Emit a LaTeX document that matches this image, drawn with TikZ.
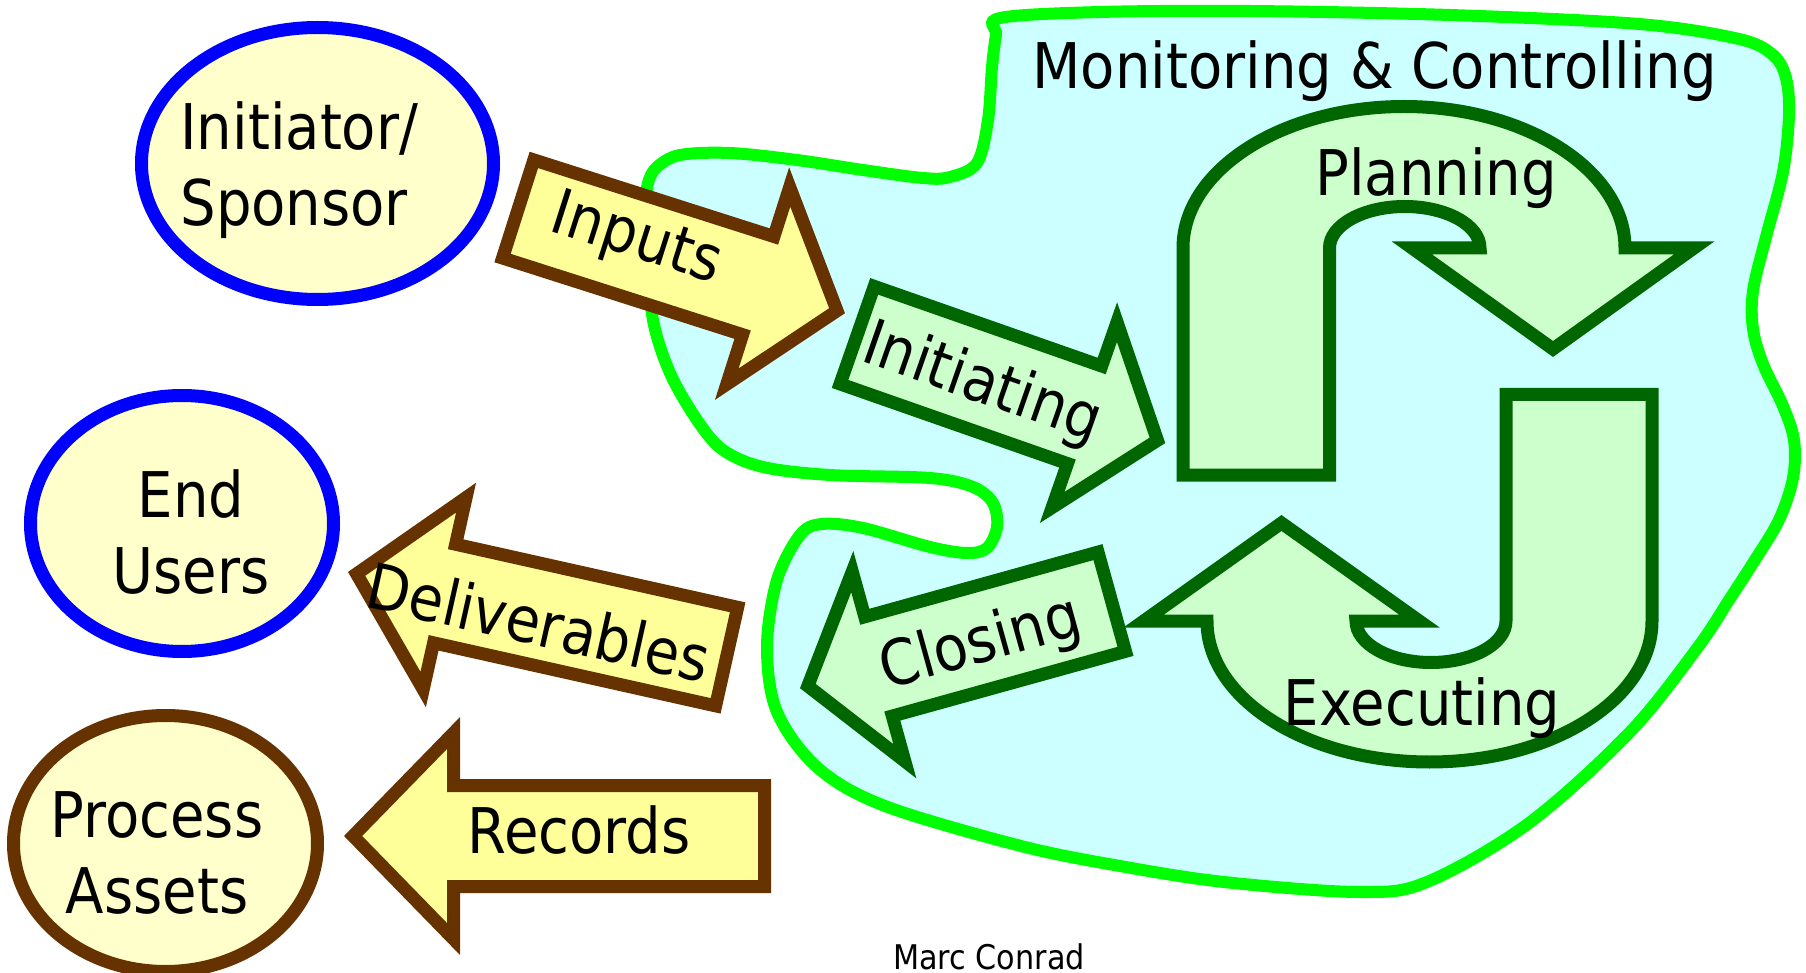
\documentclass[tikz,border=0pt]{standalone}
\usepackage{fontspec}
\setmainfont{DejaVu Sans}[FakeStretch=0.89]
\usetikzlibrary{shapes.geometric}
\definecolor{ellfill}{HTML}{FFFFCC}
\definecolor{arrfill}{HTML}{FFFF99}
\definecolor{brn}{HTML}{663300}
\definecolor{blu}{HTML}{0000FF}
\definecolor{grfill}{HTML}{CCFFCC}
\definecolor{grdark}{HTML}{006600}
\definecolor{grbright}{HTML}{00FF00}
\definecolor{cyanfill}{HTML}{CCFFFF}
% style, origin, rotation, tip, shaft half width, head base, head half width
\newcommand\blockarr[7]{\draw[#1, shift={#2}, rotate=#3] (6.5,-#5) -- (#6,-#5) -- (#6,-#7) -- (#4,0) -- (#6,#7) -- (#6,#5) -- (6.5,#5) -- cycle;}
\begin{document}
\begin{tikzpicture}[x=0.5pt,y=-0.5pt,
  lab/.style={font=\fontsize{31.5}{38}\selectfont, inner sep=0pt},
  party/.style={ellipse, draw=#1, fill=ellfill, line width=6.5pt, inner sep=0pt},
  brownarrow/.style={draw=brn, fill=arrfill, line width=6.5pt, line join=miter},
  greenarrow/.style={draw=grdark, fill=grfill, line width=6.5pt, line join=miter},
  cloudsty/.style={draw=grbright, fill=cyanfill, line width=6pt}]

\path[use as bounding box, fill=white] (0,0) rectangle (1806,973);

% Monitoring & Controlling region
\draw[cloudsty] plot[smooth cycle, tension=0.55] coordinates {
 (1000,18) (1100,12) (1250,11) (1450,15) (1639,24) (1739,39) (1773,55) (1786,78)
 (1789,115) (1783,172) (1766,237) (1753,291) (1753,329) (1763,364) (1783,406)
 (1794,440) (1793,478) (1779,520) (1753,563) (1729,600) (1698,647) (1630,732)
 (1529,823) (1427,882) (1359,892) (1224,882) (1120,866) (1021,846) (885,806)
 (818,768) (777,712) (767,647) (777,580) (800,535) (822,524) (863,528) (930,547)
 (967,553) (987,548) (997,527) (993,503) (973,487) (930,478) (830,475) (763,467)
 (723,450) (697,420) (670,373) (653,320) (649,260) (647,203) (648,183) (657,167)
 (680,155) (730,153) (797,160) (863,170) (923,178) (950,177) (977,163) (988,120)
 (992,67) (996,35)};

\node[lab, anchor=base] (title) at (1374.5,89) {Monitoring \& Controlling};

% process group arrows
\blockarr{greenarrow}{(851,333)}{-19.3}{324.7}{51.7}{247.5}{98.2}
\node[lab, rotate=-19.3] (initiating) at (982,385) {Initiating};

\draw[greenarrow] (1183,475) -- (1183,248)
  .. controls (1183,169.8) and (1282.7,106.5) .. (1404,106.5)
  .. controls (1525.3,106.5) and (1625,169.8) .. (1625,248)
  -- (1694,248) -- (1553,349) -- (1412,248) -- (1480,248)
  .. controls (1480,225.1) and (1446.3,206.5) .. (1404.75,206.5)
  .. controls (1363.2,206.5) and (1329.5,225.1) .. (1329.5,248)
  -- (1329.5,475) -- cycle;
\node[lab, anchor=base] (planning) at (1436,196) {Planning};

\draw[greenarrow] (1652,394.5) -- (1506,394.5) -- (1506,621)
  .. controls (1506,643.9) and (1472.4,662.5) .. (1431,662.5)
  .. controls (1389.6,662.5) and (1356,643.9) .. (1356,621)
  -- (1419.3,621) -- (1281.5,523) -- (1143.7,621) -- (1207,621)
  .. controls (1207,698.9) and (1306.6,762) .. (1429.5,762)
  .. controls (1552.4,762) and (1652,698.9) .. (1652,621) -- cycle;
\node[lab, anchor=base] (executing) at (1422,725) {Executing};

\blockarr{greenarrow}{(1118,600)}{195.5}{321.9}{51.5}{248.5}{98.4}
\node[lab, rotate=15.5] (closing) at (981,645) {Closing};

% flows to and from stakeholders
\blockarr{brownarrow}{(512,207)}{-17.7}{341.2}{51.5}{258.5}{103.5}
\node[lab, rotate=-17.7] (inputs) at (636,241) {Inputs};

\blockarr{brownarrow}{(733,658)}{167.4}{385.7}{50.5}{295.5}{98.3}
\node[lab, rotate=-12.6] (deliverables) at (539,622) {Deliverables};

\blockarr{brownarrow}{(771,836)}{180}{417.9}{50.5}{317.5}{103}
\node[lab, anchor=base] (records) at (579,853) {Records};

% stakeholders
\node[party=blu, minimum width=176pt, minimum height=136pt] (init) at (317.5,163.5) {};
\node[lab, align=left, anchor=base west] (inittext) at (180,226) {Initiator/\\Sponsor};

\node[party=blu, minimum width=151.5pt, minimum height=128pt] (users) at (182,523.5) {};
\node[lab, align=center, anchor=base] (userstext) at (191,593) {End\\Users};

\node[party=brn, minimum width=152pt, minimum height=128pt] (assets) at (165.5,843.5) {};
\node[lab, align=center, anchor=base] (assetstext) at (157,913) {Process\\Assets};

\node[font=\fontsize{17}{21}\selectfont, inner sep=0pt, anchor=base] (author) at (989,969) {Marc Conrad};
\end{tikzpicture}
\end{document}
